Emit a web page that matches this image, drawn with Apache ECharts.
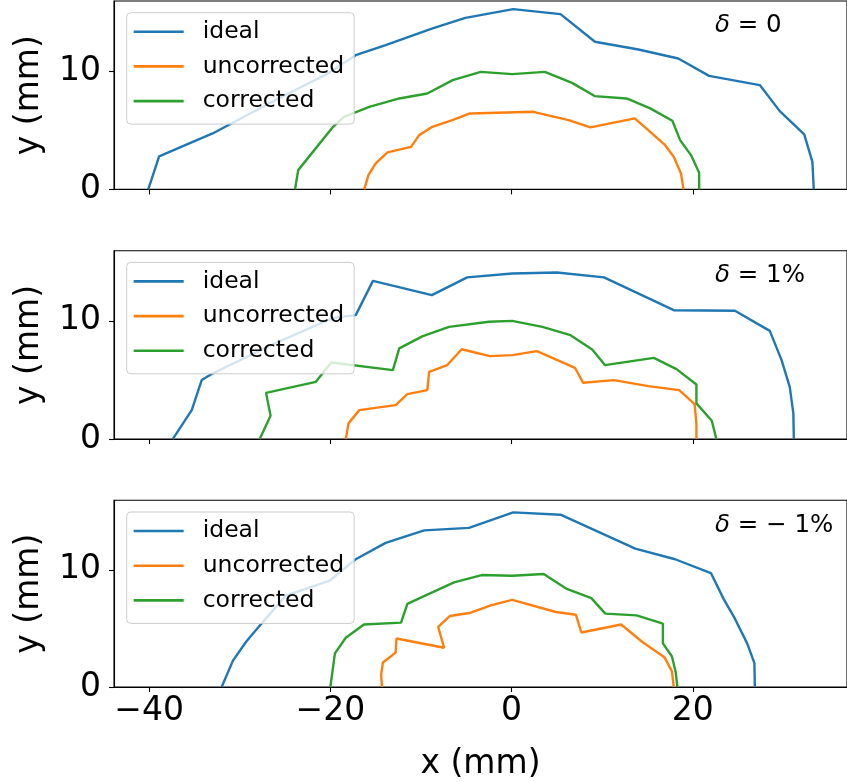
<!DOCTYPE html>
<html>
<head>
<meta charset="utf-8">
<script src="https://cdn.jsdelivr.net/npm/echarts@6/dist/echarts.min.js"></script>
<style>
  html, body { margin: 0; padding: 0; background: #fff; }
  #chart { width: 847px; height: 782px; }
</style>
</head>
<body>
<div id="chart"></div>
<script>
// [x, y] points in mm
const ideal0 = [[-40.1,0],[-38.9,2.79],[-33.0,4.73],[-25.2,7.9],[-20.5,9.7],[-17.2,11.35],[-13.9,12.2],[-8.8,13.6],[-5.1,14.5],[0.18,15.24],[5.4,14.82],[9.2,12.48],[14.0,11.83],[18.4,11.07],[21.8,9.6],[27.4,8.82],[29.6,6.62],[32.3,4.65],[33.2,2.33],[33.35,0]];
const uncorr0 = [[-16.26,0],[-15.8,1.21],[-15.0,2.2],[-13.7,3.13],[-11.1,3.6],[-10.2,4.59],[-8.74,5.29],[-6.54,5.86],[-4.6,6.42],[2.4,6.56],[6.3,5.86],[8.7,5.24],[13.6,6.0],[15.3,4.87],[16.95,3.74],[17.9,2.76],[18.7,1.35],[18.97,0]];
const corr0 = [[-23.9,0],[-23.55,1.63],[-19.7,5.29],[-18.5,6.14],[-15.7,6.98],[-12.4,7.69],[-9.3,8.11],[-6.5,9.24],[-3.4,9.94],[0.07,9.75],[3.67,9.94],[6.67,9.01],[9.17,7.89],[12.7,7.69],[15.3,6.85],[17.75,5.8],[18.6,4.17],[19.8,2.9],[20.7,1.4],[20.7,0]];

const ideal1 = [[-37.4,0],[-35.3,2.45],[-34.2,4.99],[-33.0,5.55],[-26.4,8.0],[-19.7,10.25],[-17.2,10.48],[-15.3,13.38],[-8.8,12.17],[-4.9,13.67],[0.07,14.0],[5.0,14.09],[10.2,13.67],[17.9,10.9],[24.65,10.85],[28.5,9.15],[29.8,6.68],[30.7,4.42],[31.1,2.17],[31.15,0]];
const uncorr1 = [[-18.3,0],[-18.0,1.33],[-16.8,2.45],[-12.8,2.87],[-11.5,3.8],[-9.3,4.14],[-9.1,5.69],[-7.1,6.26],[-5.5,7.6],[-2.4,7.02],[0.07,7.1],[2.8,7.44],[7.0,6.03],[7.9,4.76],[11.3,4.99],[15.1,4.48],[18.5,4.14],[20.2,2.96],[20.4,1.33],[20.4,0]];
const corr1 = [[-27.8,0],[-26.6,1.97],[-27.1,3.91],[-21.6,4.84],[-19.9,6.48],[-13.1,5.83],[-12.4,7.67],[-9.8,8.71],[-6.9,9.49],[-2.5,9.92],[0.07,10.0],[3.4,9.49],[6.5,8.79],[8.9,7.58],[10.3,6.26],[15.7,6.87],[18.2,5.92],[20.4,4.62],[20.4,3.02],[22.1,1.55],[22.6,0]];

const ideal2 = [[-32.0,0],[-30.75,2.25],[-29.3,3.86],[-27.6,5.41],[-24.9,7.8],[-20.1,9.07],[-17.2,10.9],[-13.9,12.3],[-9.65,13.36],[-4.7,13.58],[0.18,14.9],[5.4,14.7],[13.65,11.8],[18.05,10.9],[22.0,9.72],[23.4,7.52],[24.65,5.83],[26.0,3.72],[26.8,2.03],[26.85,0]];
const uncorr2 = [[-14.3,0],[-14.4,1.04],[-14.2,2.09],[-12.8,2.93],[-12.7,4.14],[-7.45,3.35],[-8.1,5.13],[-6.8,6.06],[-4.5,6.34],[-2.3,6.96],[0.07,7.44],[4.9,6.4],[7.1,6.17],[7.7,4.65],[12.1,5.33],[14.4,3.86],[16.9,2.51],[17.7,1.33],[17.9,0]];
const corr2 = [[-20.0,0],[-19.5,2.87],[-18.3,4.2],[-16.3,5.33],[-12.2,5.49],[-11.5,7.1],[-8.7,8.09],[-6.35,8.93],[-3.3,9.55],[0.07,9.49],[3.55,9.64],[6.1,8.37],[8.8,7.58],[10.35,6.26],[13.8,6.11],[16.7,5.41],[16.7,3.72],[17.7,2.6],[18.1,1.33],[18.3,0]];

const seriesNames = ["ideal", "uncorrected", "corrected"];
const deltaLabels = ["0", "1%", "\u2212 1%"];
const xTicks = [-40, -20, 0, 20];
const yTicks = [0, 10];

const panels = [
  [ideal0, uncorr0, corr0],
  [ideal1, uncorr1, corr1],
  [ideal2, uncorr2, corr2]
];
const colors = ["#1f77b4", "#ff7f0e", "#2ca02c"];
const font = "DejaVu Sans";
const panelTops = [1, 250.7, 500.3];
const panelH = 188.4;

let chart = echarts.init(document.getElementById("chart"), null, { renderer: "canvas" });

let grids = [], xAxes = [], yAxes = [], series = [], legends = [], titles = [];
panelTops.forEach((top, i) => {
  const last = i === panelTops.length - 1;
  grids.push({
    left: 114, top: top, width: 735, height: panelH,
    show: true, borderColor: "#000", borderWidth: 1.1, containLabel: false
  });
  xAxes.push({
    type: "value", gridIndex: i, min: -43.88, max: 37.02,
    axisLine: { show: true, onZero: false, lineStyle: { color: "#000", width: 1.1 } },
    axisTick: { show: true, inside: false, length: 5, customValues: xTicks, lineStyle: { color: "#000", width: 1.1 } },
    axisLabel: { show: last, customValues: xTicks, margin: 8, fontSize: 33, fontFamily: font, color: "#000",
      formatter: v => (v < 0 ? "\u2212" + Math.abs(v) : String(v)) },
    splitLine: { show: false },
    name: last ? "x (mm)" : "", nameLocation: "middle", nameGap: 61,
    nameTextStyle: { fontSize: 33, fontFamily: font, color: "#000" }
  });
  yAxes.push({
    type: "value", gridIndex: i, min: 0, max: 15.93,
    axisLine: { show: true, onZero: false, lineStyle: { color: "#000", width: 1.1 } },
    axisTick: { show: true, inside: false, length: 5, customValues: yTicks, lineStyle: { color: "#000", width: 1.1 } },
    axisLabel: { customValues: yTicks, margin: 13, fontSize: 33, fontFamily: font, color: "#000" },
    splitLine: { show: false },
    name: "y (mm)", nameLocation: "middle", nameRotate: 90, nameGap: 68,
    nameTextStyle: { fontSize: 33, fontFamily: font, color: "#000" }
  });
  panels[i].forEach((pts, j) => {
    series.push({
      name: seriesNames[j], type: "line", xAxisIndex: i, yAxisIndex: i,
      data: pts, symbol: "none", showSymbol: false, color: colors[j],
      lineStyle: { width: 2.4, color: colors[j] }, silent: true
    });
  });
  legends.push({
    data: seriesNames, orient: "vertical", left: 126.7, top: top + 11.7,
    icon: "rect", itemWidth: 50, itemHeight: 2.6, itemGap: 10.7,
    padding: [7, 10, 11, 7],
    backgroundColor: "rgba(255,255,255,0.8)", borderColor: "#cccccc", borderWidth: 1, borderRadius: 4,
    textStyle: { fontSize: 23.5, lineHeight: 24, fontFamily: font, color: "#000", padding: [0, 0, 0, 14] },
    selectedMode: false
  });
  titles.push({
    text: "{i|\u03b4} = " + deltaLabels[i], left: 715, top: top + 12.5, padding: 0,
    textStyle: {
      fontSize: 24.5, fontFamily: font, fontWeight: "normal", color: "#000",
      rich: { i: { fontSize: 24.5, fontFamily: font, fontStyle: "italic", color: "#000" } }
    }
  });
});

chart.setOption({
  animation: false,
  title: titles,
  grid: grids,
  xAxis: xAxes,
  yAxis: yAxes,
  legend: legends,
  series: series
});
</script>
</body>
</html>
